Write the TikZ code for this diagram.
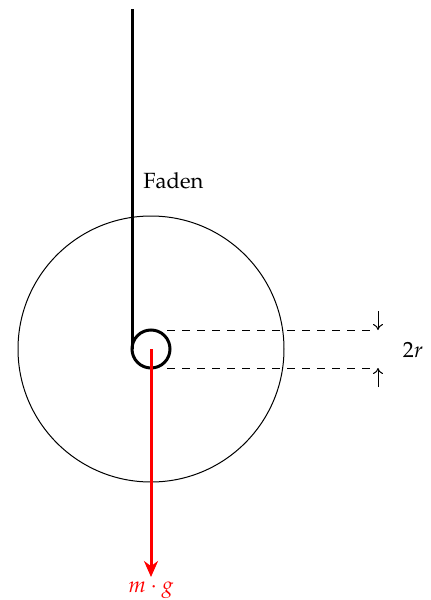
\documentclass[tikz,border=0pt]{standalone}
\usepackage[T1]{fontenc}
\usepackage{mathpazo}
\usetikzlibrary{arrows.meta}
\begin{document}
\begin{tikzpicture}[x=0.5pt,y=-0.5pt,
  thread/.style={line width=1.5pt},
  thin line/.style={line width=0.5pt},
  dimline/.style={line width=0.5pt, dash pattern=on 4pt off 3.5pt},
  force/.style={line width=1.5pt, red, -{Stealth[length=8pt,width=7pt]}},
  dimarrow/.style={line width=0.5pt, -{To[length=3pt,width=5pt]}},
  lbl/.style={font=\fontsize{11}{13}\selectfont, inner sep=0pt}]
\useasboundingbox (0,0) rectangle (430,600);
\coordinate (C) at (151,349);
\coordinate (T) at (132,9);
\coordinate (Tend) at (132,349);
\coordinate (F) at (151,577);
% large disc
\draw[thin line] (C) circle[radius=133];
% thread and small pulley
\draw[thread] (T) -- (Tend);
\draw[thread] (C) circle[radius=19];
% dimension lines
\coordinate (D1a) at (167,330);
\coordinate (D1b) at (374,330);
\coordinate (D2a) at (167,368);
\coordinate (D2b) at (374,368);
\draw[dimline] (D1a) -- (D1b);
\draw[dimline] (D2a) -- (D2b);
\coordinate (A1s) at (378,311);
\coordinate (A1e) at (378,330);
\coordinate (A2s) at (378,387);
\coordinate (A2e) at (378,368);
\draw[dimarrow] (A1s) -- (A1e);
\draw[dimarrow] (A2s) -- (A2e);
\node[lbl] (r) at (413,350) {$2r$};
% force
\draw[force] (C) -- (F);
\node[lbl, red] (mg) at (151,590) {$m\cdot g$};
\node[lbl, anchor=base west] (faden) at (143,188) {Faden};
\end{tikzpicture}
\end{document}
